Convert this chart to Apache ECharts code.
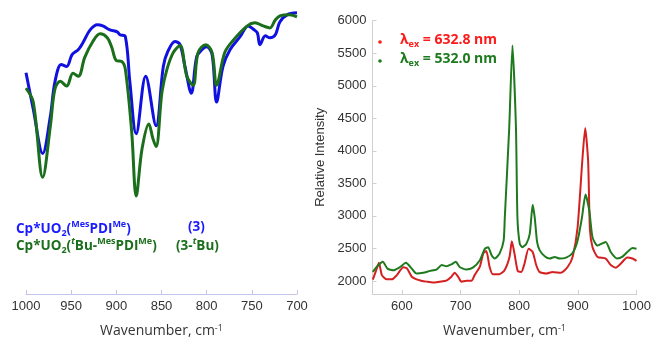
<!DOCTYPE html>
<html>
<head>
<meta charset="utf-8">
<script src="https://cdn.jsdelivr.net/npm/echarts@6/dist/echarts.min.js"></script>
<style>
  html, body { margin: 0; padding: 0; background: #fff; }
  #chart { width: 654px; height: 343px; }
</style>
</head>
<body>
<div id="chart"></div>
<script>
// IR spectrum (left panel), transmittance in arbitrary units
const irBlueWn = [1000, 992, 981.5, 973, 968, 961, 955, 949, 942, 937, 929, 921, 915, 907, 899, 896, 890, 885, 878, 867.5, 856, 848, 843, 835, 829.5, 824, 817, 811, 805, 800, 794, 789, 782, 774, 763, 754, 749, 744, 741, 735, 730, 724, 719, 711, 700]
const irBlueT = [77.9, 65.2, 49.5, 62.7, 74.6, 80.8, 80.1, 84.3, 86.1, 88.5, 93.0, 94.8, 94.4, 93.0, 92.3, 91.3, 90.6, 74.6, 56.4, 76.7, 59.2, 80.1, 85.4, 88.9, 87.8, 80.1, 70.7, 83.6, 86.1, 87.1, 84.3, 67.6, 80.1, 86.1, 90.6, 94.4, 93.4, 92.0, 87.8, 90.9, 90.2, 91.3, 95.8, 98.3, 99.0]
const irGreenWn = [1000, 992, 981.5, 973, 968, 962, 955, 948, 942, 935, 926, 918, 910, 905, 900, 894, 890, 883, 878, 871.5, 864, 859.5, 856, 849.5, 844, 837, 829.5, 822, 815, 809.5, 801, 794, 789, 780, 771, 755, 746.5, 737.5, 730, 724, 719, 708, 700]
const irGreenT = [72.5, 67.6, 41.1, 59.2, 72.1, 74.9, 73.2, 77.7, 76.7, 83.3, 88.9, 91.6, 90.2, 86.8, 82.2, 81.9, 79.1, 57.1, 34.5, 51.2, 59.9, 54.7, 51.9, 71.1, 79.1, 85.0, 87.5, 76.7, 73.5, 85.0, 87.8, 85.0, 73.5, 85.0, 89.2, 94.4, 95.5, 94.4, 93.7, 96.5, 97.9, 98.3, 97.6]

// Raman spectra (right panel)
const ramanRedWn = [550.5, 556.5, 561, 566, 574.5, 583, 591.5, 602.5, 609, 617, 625, 633, 642, 653, 664.5, 676, 684.5, 690, 696, 701.5, 710, 719, 724, 733, 739, 744, 749.5, 755, 766.5, 775, 783.5, 787.5, 792, 797.5, 803.5, 809, 816, 823, 829, 834.5, 846, 857, 871, 882.5, 891, 899.5, 907.5, 912.5, 917.5, 920.5, 925, 933.5, 947.5, 956, 964.5, 973, 984, 993, 1000]
const ramanRed = [2020, 2170, 2280, 2090, 2025, 2025, 2090, 2210, 2190, 2065, 2025, 2005, 1990, 1975, 1990, 2005, 2065, 2125, 2065, 1990, 2005, 2005, 2090, 2220, 2430, 2460, 2220, 2105, 2105, 2165, 2370, 2610, 2420, 2155, 2140, 2265, 2495, 2445, 2245, 2140, 2115, 2140, 2125, 2215, 2370, 2820, 3840, 4350, 3840, 2800, 2520, 2370, 2345, 2245, 2205, 2265, 2360, 2345, 2310]
const ramanGreenWn = [550.5, 557, 567.5, 575.5, 586, 597, 607, 617, 625, 636.5, 648, 659, 668, 676, 684.5, 692, 698.5, 710, 721, 733, 741.5, 747, 753, 758.5, 766.5, 773.5, 775.5, 783, 788.5, 794.5, 797, 801, 805.5, 812, 818, 823, 826.5, 830.5, 835, 843.5, 852, 860.5, 869, 880, 891, 899.5, 907, 913, 919.5, 925, 933.5, 947.5, 956, 967, 975.5, 987, 993, 1000]
const ramanGreen = [2140, 2215, 2295, 2190, 2165, 2215, 2280, 2190, 2115, 2125, 2155, 2175, 2245, 2225, 2255, 2295, 2215, 2175, 2205, 2320, 2495, 2520, 2395, 2345, 2420, 2620, 2980, 4350, 5620, 4350, 2980, 2570, 2520, 2570, 2725, 3170, 2975, 2600, 2470, 2380, 2345, 2370, 2345, 2360, 2430, 2620, 2975, 3330, 3080, 2670, 2545, 2600, 2445, 2345, 2370, 2470, 2505, 2495]
const ramanXTicks = [600, 700, 800, 900, 1000]
const ramanYTicks = [2000, 2500, 3000, 3500, 4000, 4500, 5000, 5500, 6000]

function pairs(xs, ys) {
  return xs.map((x, i) => [x, ys[i]])
}

const chart = echarts.init(document.getElementById("chart"))

const tickFont = { color: "#333", fontSize: 13, fontFamily: "Liberation Sans", formatter: (v) => String(v) }
const titleRich = {
  a: { fontSize: 14, fontFamily: "Open Sans", color: "#333" },
  s: { fontSize: 9, fontFamily: "Open Sans", color: "#333", verticalAlign: "top", lineHeight: 10 }
}

// bold label with sub/superscripts (zrender rich tokens use fill)
const lab = (color) => ({
  a: { fontSize: 13.5, fontWeight: "bold", fontFamily: "Open Sans", fill: color, lineHeight: 18 },
  sup: { fontSize: 9, fontWeight: "bold", fontFamily: "Open Sans", fill: color, verticalAlign: "top", lineHeight: 10 },
  supi: { fontSize: 9, fontWeight: "bold", fontStyle: "italic", fontFamily: "Open Sans", fill: color, verticalAlign: "top", lineHeight: 10 },
  sub: { fontSize: 9, fontWeight: "bold", fontFamily: "Open Sans", fill: color, verticalAlign: "bottom", lineHeight: 10 }
})
const lam = (color) => ({
  l: { fontSize: 14, fontWeight: "bold", fontFamily: "Open Sans", fill: color, lineHeight: 18 },
  s: { fontSize: 9, fontWeight: "bold", fontFamily: "Open Sans", fill: color, verticalAlign: "bottom", lineHeight: 10 }
})

const blue = "#1010e0"
const darkGreen = "#1b6e1b"
const red = "#d42020"
const green = "#1e7a1e"

const option = {
  animation: false,
  grid: [
    { left: 26, right: 357, top: 10, bottom: 46 },
    { left: 372.5, right: 16.5, top: 20.7, bottom: 46.3 }
  ],
  xAxis: [
    {
      gridIndex: 0,
      type: "value",
      min: 700,
      max: 1000,
      interval: 50,
      inverse: true,
      axisLine: { lineStyle: { color: "#c4c4ee", width: 1 } },
      axisTick: { inside: true, length: 4, lineStyle: { color: "#c4c4ee" } },
      axisLabel: Object.assign({ margin: 6 }, tickFont),
      splitLine: { show: false },
      name: "{a|Wavenumber, cm}{s|-1}",
      nameLocation: "middle",
      nameGap: 30,
      nameTextStyle: { rich: titleRich }
    },
    {
      gridIndex: 1,
      type: "value",
      min: 550,
      max: 1000,
      axisLine: { lineStyle: { color: "#d0d0d0", width: 1 } },
      axisTick: { inside: true, length: 4, lineStyle: { color: "#d0d0d0" }, customValues: ramanXTicks },
      axisLabel: Object.assign({ margin: 6, customValues: ramanXTicks }, tickFont),
      splitLine: { show: false },
      name: "{a|Wavenumber, cm}{s|-1}",
      nameLocation: "middle",
      nameGap: 30,
      nameTextStyle: { rich: titleRich }
    }
  ],
  yAxis: [
    { gridIndex: 0, type: "value", min: 0, max: 100, show: false },
    {
      gridIndex: 1,
      type: "value",
      min: 1800,
      max: 6000,
      axisLine: { show: true, lineStyle: { color: "#d0d0d0", width: 1 } },
      axisTick: { show: true, inside: true, length: 4, lineStyle: { color: "#d0d0d0" }, customValues: ramanYTicks },
      axisLabel: Object.assign({ margin: 6, customValues: ramanYTicks }, tickFont),
      splitLine: { show: false },
      name: "Relative Intensity",
      nameLocation: "middle",
      nameGap: 46,
      nameTextStyle: { color: "#333", fontSize: 13, fontFamily: "Liberation Sans" }
    }
  ],
  series: [
    {
      name: "Cp*UO2(MesPDIMe) (3)",
      type: "line", xAxisIndex: 0, yAxisIndex: 0,
      data: pairs(irBlueWn, irBlueT),
      smooth: 0.35, showSymbol: false,
      lineStyle: { color: blue, width: 3 }, z: 3
    },
    {
      name: "Cp*UO2(tBu-MesPDIMe) (3-tBu)",
      type: "line", xAxisIndex: 0, yAxisIndex: 0,
      data: pairs(irGreenWn, irGreenT),
      smooth: 0.35, showSymbol: false,
      lineStyle: { color: darkGreen, width: 3 }, z: 4
    },
    {
      name: "632.8 nm",
      type: "line", xAxisIndex: 1, yAxisIndex: 1,
      data: pairs(ramanRedWn, ramanRed),
      smooth: 0.2, showSymbol: false,
      lineStyle: { color: red, width: 2 }, z: 3
    },
    {
      name: "532.0 nm",
      type: "line", xAxisIndex: 1, yAxisIndex: 1,
      data: pairs(ramanGreenWn, ramanGreen),
      smooth: 0.2, showSymbol: false,
      lineStyle: { color: green, width: 2 }, z: 4
    }
  ],
  graphic: [
    {
      type: "text", left: 16, top: 220,
      style: {
        text: "{a|Cp*UO}{sub|2}{a|(}{sup|Mes}{a|PDI}{sup|Me}{a|)}",
        rich: lab("#1a1aff")
      }
    },
    {
      type: "text", left: 188, top: 220,
      style: { text: "{a|(3)}", rich: lab("#1a1aff") }
    },
    {
      type: "text", left: 16, top: 237,
      style: {
        text: "{a|Cp*UO}{sub|2}{a|(}{supi|t}{a|Bu-}{sup|Mes}{a|PDI}{sup|Me}{a|)}",
        rich: lab(darkGreen)
      }
    },
    {
      type: "text", left: 176, top: 237,
      style: { text: "{a|(3-}{supi|t}{a|Bu)}", rich: lab(darkGreen) }
    },
    { type: "circle", shape: { cx: 380, cy: 42, r: 1.8 }, style: { fill: "#ff1a1a" } },
    { type: "circle", shape: { cx: 380, cy: 61, r: 1.8 }, style: { fill: green } },
    {
      type: "text", left: 400, top: 33,
      style: { text: "{l|λ}{s|ex}{l| = 632.8 nm}", rich: lam("#ff1a1a") }
    },
    {
      type: "text", left: 400, top: 52,
      style: { text: "{l|λ}{s|ex}{l| = 532.0 nm}", rich: lam(green) }
    }
  ]
}

chart.setOption(option)
</script>
</body>
</html>
